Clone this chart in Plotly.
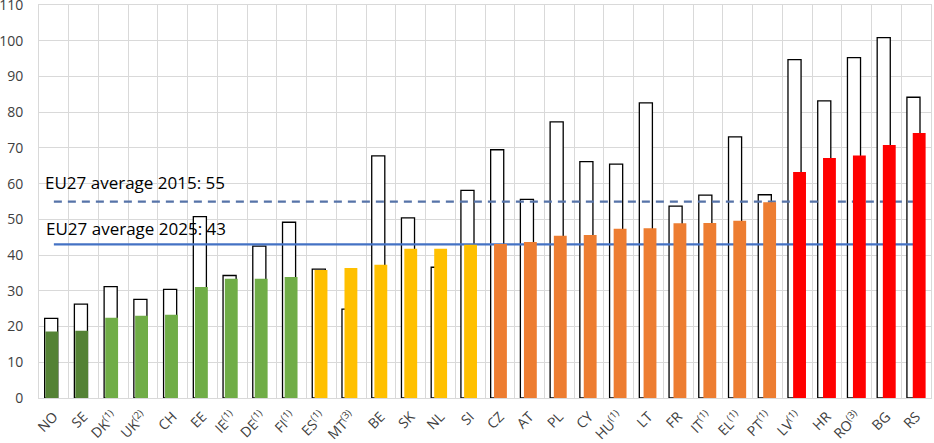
import plotly.graph_objects as go

countries = ["NO", "SE", "DK<sup>(1)</sup>", "UK<sup>(2)</sup>", "CH", "EE", "IE<sup>(1)</sup>",
             "DE<sup>(1)</sup>", "FI<sup>(1)</sup>", "ES<sup>(1)</sup>", "MT<sup>(3)</sup>", "BE", "SK",
             "NL", "SI", "CZ", "AT", "PL", "CY", "HU<sup>(1)</sup>", "LT", "FR", "IT<sup>(1)</sup>",
             "EL<sup>(1)</sup>", "PT<sup>(1)</sup>", "LV<sup>(1)</sup>", "HR", "RO<sup>(3)</sup>", "BG", "RS"]

values_2015 = [22.3, 26.3, 31.2, 27.6, 30.4, 50.8, 34.3, 42.5, 49.2, 36.1, 24.9, 67.8, 50.4,
               36.6, 58.1, 69.5, 55.6, 77.3, 66.2, 65.5, 82.6, 53.7, 56.8, 73.1, 56.9, 94.7,
               83.2, 95.3, 100.9, 84.2]

values_2025 = [18.6, 18.8, 22.5, 23.0, 23.3, 31.1, 33.4, 33.4, 33.9, 35.8, 36.4, 37.3, 41.8,
               41.8, 42.9, 43.1, 43.7, 45.4, 45.6, 47.4, 47.5, 48.9, 49.0, 49.6, 54.8, 63.3,
               67.2, 67.9, 70.8, 74.2]

groups = ["dark", "dark", "green", "green", "green", "green", "green", "green", "green",
          "gold", "gold", "gold", "gold", "gold", "gold",
          "orange", "orange", "orange", "orange", "orange", "orange", "orange", "orange",
          "orange", "orange", "red", "red", "red", "red", "red"]

y_ticks = [0, 10, 20, 30, 40, 50, 60, 70, 80, 90, 100, 110]

eu27_avg_2015 = 55
eu27_avg_2025 = 43

group_colors = {"dark": "#548235", "green": "#70AD47", "gold": "#FFC000",
                "orange": "#ED7D31", "red": "#FF0000"}
fill_colors = [group_colors[g] for g in groups]

fig = go.Figure()

# 2015 outline bars
fig.add_trace(go.Bar(
    x=countries, y=values_2015, width=0.44, offset=-0.31,
    marker=dict(color="white", line=dict(color="#000000", width=1.3)),
    showlegend=False, hoverinfo="x+y"))

# 2025 filled bars (slightly different spacing, on overlay axis)
fig.add_trace(go.Bar(
    x=countries, y=values_2025, width=0.43, offset=-0.3, xaxis="x2",
    marker=dict(color=fill_colors, line=dict(width=0)),
    showlegend=False, hoverinfo="x+y"))

# average lines
fig.add_trace(go.Scatter(
    x=[countries[0], countries[-1]], y=[eu27_avg_2015, eu27_avg_2015], mode="lines",
    line=dict(color="#5673A8", width=2.2, dash="8px,6px"), showlegend=False, hoverinfo="skip"))
fig.add_trace(go.Scatter(
    x=[countries[0], countries[-1]], y=[eu27_avg_2025, eu27_avg_2025], mode="lines",
    line=dict(color="#4472C4", width=2.2), showlegend=False, hoverinfo="skip"))

fig.add_annotation(text=f"EU27 average 2015: {eu27_avg_2015}", xref="paper", yref="y",
                   x=0.005, y=60.3, xanchor="left", yanchor="middle", showarrow=False,
                   font=dict(family="Open Sans", size=17, color="#000000"))
fig.add_annotation(text=f"EU27 average 2025: {eu27_avg_2025}", xref="paper", yref="y",
                   x=0.006, y=47.4, xanchor="left", yanchor="middle", showarrow=False,
                   font=dict(family="Open Sans", size=17, color="#000000"))

grid = "#D9D9D9"
fig.update_layout(
    width=934, height=443,
    margin=dict(l=39, r=3, t=5, b=45),
    paper_bgcolor="white", plot_bgcolor="white",
    barmode="overlay",
    font=dict(family="Open Sans", color="#404040"),
    xaxis=dict(type="category", range=[-0.5, 29.5], tickson="boundaries", automargin=False,
               showgrid=True, gridcolor=grid, gridwidth=1,
               showline=True, linecolor=grid, mirror=True, ticks="",
               tickangle=-45, ticklabelstandoff=4,
               tickfont=dict(size=14, color="#404040")),
    xaxis2=dict(type="category", overlaying="x", range=[-0.514, 29.31], visible=False),
    yaxis=dict(range=[0, 110.02], tickvals=y_ticks, ticktext=[str(v) for v in y_ticks],
               automargin=False, ticklabeloverflow="allow",
               showgrid=True, gridcolor=grid, gridwidth=1,
               showline=True, linecolor=grid, mirror=True, zeroline=False, ticks="",
               ticklabelstandoff=12, tickfont=dict(size=14, color="#404040")),
)

fig.write_html("out.html")
